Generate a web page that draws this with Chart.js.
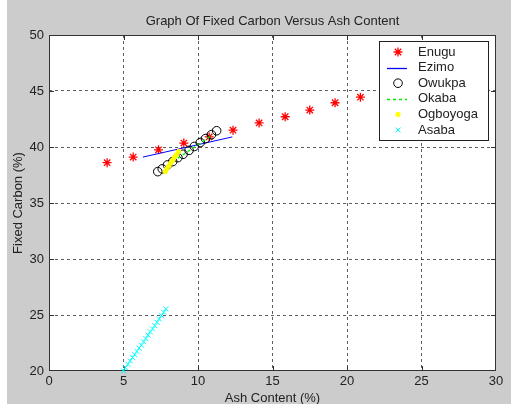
<!DOCTYPE html>
<html>
<head>
<meta charset="utf-8">
<script src="https://cdn.jsdelivr.net/npm/chart.js@4.4.0/dist/chart.umd.min.js"></script>
<style>
    html, body { margin: 0; padding: 0; background: #ffffff; }
    #chart { display: block; }
</style>
</head>
<body>
<canvas id="chart" width="511" height="404"></canvas>
<script>
// Ticks
const xTicks = [0, 5, 10, 15, 20, 25, 30];
const yTicks = [20, 25, 30, 35, 40, 45, 50];

// Series (ash content %, fixed carbon %)
const enuguX = [3.9, 5.65, 7.35, 9.05, 10.75, 12.35, 14.1, 15.85, 17.5, 19.2, 20.9];
const enuguY = [38.6, 39.1, 39.75, 40.35, 40.9, 41.5, 42.15, 42.7, 43.3, 43.95, 44.45];
const ezimoX = [6.3, 9.3, 12.3];
const ezimoY = [39.1, 40.0, 40.9];
const owukpaX = [7.3, 7.6, 7.95, 8.3, 8.65, 9.0, 9.4, 9.75, 10.15, 10.5, 10.9, 11.25];
const owukpaY = [37.8, 38.05, 38.4, 38.7, 39.05, 39.35, 39.7, 40.05, 40.4, 40.75, 41.1, 41.45];
const okabaX = [8.3, 9.6, 11.0];
const okabaY = [38.7, 39.85, 41.1];
const ogboyogaX = [7.8, 7.9, 8.05, 8.15, 8.3, 8.4, 8.55, 8.7];
const ogboyogaY = [37.8, 38.05, 38.3, 38.55, 38.8, 39.05, 39.3, 39.6];
const asabaX = [5.0, 5.12, 5.3, 5.45, 5.6, 5.75, 5.9, 6.05, 6.2, 6.35, 6.5, 6.65, 6.8, 6.95, 7.1, 7.25, 7.4, 7.55, 7.7, 7.85];
const asabaY = [20.0, 20.3, 20.6, 20.9, 21.2, 21.45, 21.75, 22.05, 22.3, 22.6, 22.9, 23.2, 23.5, 23.75, 24.05, 24.35, 24.65, 24.95, 25.25, 25.55];

const FONT = '"Liberation Sans", Arial, sans-serif';
const TEXT = '#222222';

function pts(xs, ys) {
    return xs.map((x, i) => ({ x: x, y: ys[i] }));
}

// fundo cinza da figura e área branca dos eixos
const figureBg = {
    id: 'figureBg',
    beforeDraw(chart) {
        const { ctx, width, height, chartArea: a } = chart;
        ctx.save();
        ctx.fillStyle = '#ffffff';
        ctx.fillRect(0, 0, width, height);
        ctx.fillStyle = '#cccccc';
        ctx.fillRect(7, 0, width - 7, height);
        ctx.fillStyle = '#ffffff';
        ctx.fillRect(a.left, a.top, a.right - a.left, a.bottom - a.top);
        ctx.restore();
    },
    afterDraw(chart) {
        const { ctx, chartArea: a } = chart;
        ctx.save();
        ctx.fillStyle = TEXT;
        ctx.font = '13px ' + FONT;
        ctx.textAlign = 'center';
        ctx.textBaseline = 'middle';
        ctx.fillText('Graph Of Fixed Carbon Versus Ash Content', (a.left + a.right) / 2, 21);
        ctx.restore();
    }
};

// caixa dos eixos com marcas internas
const axesBox = {
    id: 'axesBox',
    beforeDatasetsDraw(chart) {
        const { ctx, chartArea: a, scales } = chart;
        ctx.save();
        ctx.strokeStyle = '#333333';
        ctx.lineWidth = 1;
        ctx.strokeRect(Math.round(a.left) + 0.5, Math.round(a.top) + 0.5,
            Math.round(a.right - a.left) - 1, Math.round(a.bottom - a.top) - 1);
        ctx.beginPath();
        xTicks.slice(1, -1).forEach(v => {
            const px = Math.round(scales.x.getPixelForValue(v)) + 0.5;
            ctx.moveTo(px, a.top); ctx.lineTo(px, a.top + 5);
            ctx.moveTo(px, a.bottom); ctx.lineTo(px, a.bottom - 5);
        });
        yTicks.slice(1, -1).forEach(v => {
            const py = Math.round(scales.y.getPixelForValue(v)) + 0.5;
            ctx.moveTo(a.left, py); ctx.lineTo(a.left + 5, py);
            ctx.moveTo(a.right, py); ctx.lineTo(a.right - 5, py);
        });
        ctx.stroke();
        ctx.restore();
    }
};

// legenda estilo MATLAB dentro da área do gráfico
const legendBox = {
    id: 'legendBox',
    afterDatasetsDraw(chart) {
        const { ctx, chartArea: a } = chart;
        const x0 = Math.round(a.right) - 117, y0 = Math.round(a.top) + 6;
        const w = 109, h = 99;
        ctx.save();
        ctx.fillStyle = '#ffffff';
        ctx.fillRect(x0, y0, w, h);
        ctx.strokeStyle = '#222222';
        ctx.lineWidth = 1;
        ctx.strokeRect(x0 + 0.5, y0 + 0.5, w, h);
        ctx.font = '13px ' + FONT;
        ctx.textBaseline = 'middle';
        ctx.textAlign = 'left';
        chart.data.datasets.forEach((ds, i) => {
            const cy = y0 + 11 + i * 15.6;
            if (ds.showLine) {
                ctx.save();
                ctx.strokeStyle = ds.borderColor;
                ctx.lineWidth = 1.3;
                ctx.setLineDash(ds.borderDash || []);
                ctx.beginPath();
                ctx.moveTo(x0 + 8, Math.round(cy) + 0.5);
                ctx.lineTo(x0 + 28, Math.round(cy) + 0.5);
                ctx.stroke();
                ctx.restore();
            } else {
                ctx.save();
                ctx.strokeStyle = ds.borderColor;
                ctx.fillStyle = ds.backgroundColor;
                ctx.lineWidth = ds.borderWidth;
                Chart.helpers.drawPoint(ctx, {
                    pointStyle: ds.pointStyle, radius: ds.pointRadius,
                    rotation: 0, borderWidth: ds.borderWidth
                }, x0 + 19, cy);
                ctx.restore();
            }
            ctx.fillStyle = TEXT;
            ctx.fillText(ds.label, x0 + 39, cy);
        });
        ctx.restore();
    }
};

const gridColor = ctx => {
    const v = ctx.tick ? ctx.tick.value : null;
    const s = ctx.scale;
    return (v === s.min || v === s.max) ? 'rgba(0,0,0,0)' : 'rgba(40,40,40,0.75)';
};

new Chart(document.getElementById('chart'), {
    type: 'scatter',
    data: {
        datasets: [
            { label: 'Enugu', data: pts(enuguX, enuguY), showLine: false, pointStyle: 'star',
              pointRadius: 4.5, borderColor: '#ff0000', backgroundColor: '#ff0000', borderWidth: 1.3, order: 6 },
            { label: 'Ezimo', data: pts(ezimoX, ezimoY), showLine: true, pointRadius: 0,
              borderColor: '#0000ff', backgroundColor: '#0000ff', borderWidth: 1, order: 5 },
            { label: 'Owukpa', data: pts(owukpaX, owukpaY), showLine: false, pointStyle: 'circle',
              pointRadius: 4.3, borderColor: '#000000', backgroundColor: 'rgba(0,0,0,0)', borderWidth: 1, order: 4 },
            { label: 'Okaba', data: pts(okabaX, okabaY), showLine: true, pointRadius: 0,
              borderColor: '#00ee00', backgroundColor: '#00ee00', borderWidth: 1.3, borderDash: [3, 3], order: 3 },
            { label: 'Ogboyoga', data: pts(ogboyogaX, ogboyogaY), showLine: false, pointStyle: 'circle',
              pointRadius: 2.2, borderColor: '#ffff00', backgroundColor: '#ffff00', borderWidth: 1, order: 2 },
            { label: 'Asaba', data: pts(asabaX, asabaY), showLine: false, pointStyle: 'crossRot',
              pointRadius: 3.5, borderColor: '#00ffff', backgroundColor: '#00ffff', borderWidth: 1, order: 1, clip: false }
        ]
    },
    options: {
        responsive: false,
        animation: false,
        events: [],
        layout: { padding: { left: 0, right: 15, top: 35, bottom: 0 } },
        plugins: { legend: { display: false }, tooltip: { enabled: false }, title: { display: false } },
        scales: {
            x: {
                type: 'linear', min: 0, max: 30,
                afterBuildTicks: s => { s.ticks = xTicks.map(v => ({ value: v })); },
                afterFit: s => { s.height = 33; },
                grid: { color: gridColor, drawTicks: false, lineWidth: 1 },
                border: { display: false, dash: [3, 3] },
                ticks: { padding: 3, color: TEXT, font: { family: FONT, size: 13 }, maxRotation: 0 },
                title: { display: true, text: 'Ash Content (%)', color: TEXT,
                         font: { family: FONT, size: 13, lineHeight: 1 }, padding: { top: 0, bottom: -1 } }
            },
            y: {
                type: 'linear', min: 20, max: 50,
                afterBuildTicks: s => { s.ticks = yTicks.map(v => ({ value: v })); },
                afterFit: s => { s.width = 49; },
                grid: { color: gridColor, drawTicks: false, lineWidth: 1 },
                border: { display: false, dash: [3, 3] },
                ticks: { padding: 5, color: TEXT, font: { family: FONT, size: 13 } },
                title: { display: true, text: 'Fixed Carbon (%)', color: TEXT,
                         font: { family: FONT, size: 13, lineHeight: 1 }, padding: { top: 11.5, bottom: 0 } }
            }
        }
    },
    plugins: [figureBg, axesBox, legendBox]
});
</script>
</body>
</html>
